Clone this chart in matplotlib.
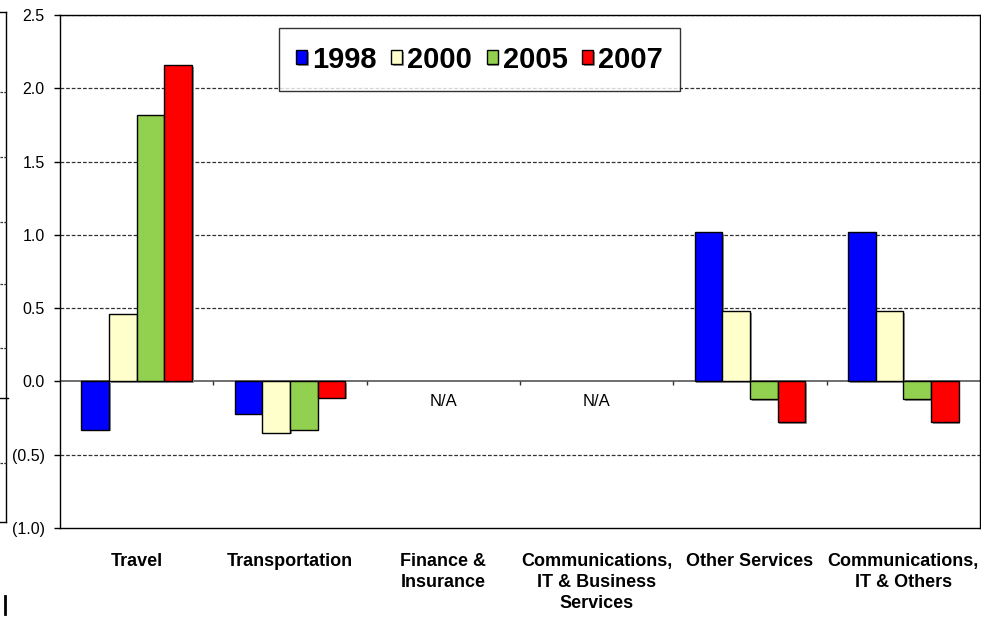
import matplotlib
matplotlib.use("Agg")
import matplotlib.pyplot as plt
import matplotlib.patheffects as pe
from matplotlib.lines import Line2D
from matplotlib.ticker import FuncFormatter
import numpy as np

plt.rcParams["font.family"] = ["Liberation Sans", "DejaVu Sans"]

# ── data ─────────────────────────────────────────
categories = ["Travel", "Transportation", "Finance &\nInsurance",
              "Communications,\nIT & Business\nServices", "Other Services",
              "Communications,\nIT & Others"]
years = ["1998", "2000", "2005", "2007"]
v1998 = [-0.33, -0.22, np.nan, np.nan, 1.02, 1.02]
v2000 = [0.46, -0.35, np.nan, np.nan, 0.48, 0.48]
v2005 = [1.82, -0.33, np.nan, np.nan, -0.12, -0.12]
v2007 = [2.16, -0.11, np.nan, np.nan, -0.28, -0.28]
na_labels = ["", "", "N/A", "N/A", "", ""]
y_ticks = [-1.0, -0.5, 0.0, 0.5, 1.0, 1.5, 2.0, 2.5]

colors = ["#0000FF", "#FFFFCC", "#92D050", "#FF0000"]
series = [v1998, v2000, v2005, v2007]

W, H = 981, 622
fig = plt.figure(figsize=(W / 100, H / 100), dpi=100)
ax = fig.add_axes([60 / W, 1 - 528 / H, 920 / W, 513 / H])

x = np.arange(len(categories))
bw = 0.18
shadow = [pe.SimplePatchShadow(offset=(1.2, -1.2), shadow_rgbFace="#999999", alpha=1.0),
          pe.Normal()]
for i, (vals, col, yr) in enumerate(zip(series, colors, years)):
    ax.bar(x + (i - 1.5) * bw, vals, bw, color=col, edgecolor="black",
           linewidth=1.0, label=yr, zorder=3, path_effects=shadow)

for xi, lab in zip(x, na_labels):
    if lab:
        ax.text(xi, -0.14, lab, ha="center", va="center", fontsize=12)

ax.set_xlim(-0.5, len(categories) - 0.5)
ax.set_ylim(-1.0, 2.5)
ax.set_yticks(y_ticks)
ax.yaxis.set_major_formatter(FuncFormatter(
    lambda v, p: f"({abs(v):.1f})" if v < 0 else f"{v:.1f}"))
ax.tick_params(axis="y", length=4, width=1, direction="out", pad=7, labelsize=11.5)

# gridlines (dashed) and zero line
for yv in y_ticks:
    if yv not in (0.0, -1.0):
        ax.axhline(yv, color="#333333", linestyle=(0, (3, 1.5)), linewidth=0.9, zorder=1)
ax.axhline(0, color="#555555", linewidth=1.2, zorder=2)
ax.vlines(np.arange(0.5, len(categories) - 0.5), -0.025, 0, color="#333333",
          linewidth=1, zorder=2)

ax.set_xticks(x)
ax.set_xticklabels(categories, fontweight="bold", fontsize=13, linespacing=1.3)
ax.tick_params(axis="x", length=0, pad=18)

for s in ax.spines.values():
    s.set_color("black")
    s.set_linewidth(1.0)

leg = ax.legend(loc="center", bbox_to_anchor=(479.5 / W, 1 - 59.5 / H),
                bbox_transform=fig.transFigure, ncol=4, frameon=True,
                fancybox=False, handlelength=0.38, handleheight=0.38,
                handletextpad=0.17, columnspacing=0.5, borderpad=0.6,
                prop={"family": ["Liberation Sans Narrow", "Liberation Sans"],
                      "weight": "bold", "size": 21})
leg.get_frame().set_edgecolor("black")
leg.get_frame().set_linewidth(1.0)
leg.set_zorder(5)

# remnants of a neighbouring chart on the left edge
def fline(xs, ys, **kw):
    fig.add_artist(Line2D([v / W for v in xs], [1 - v / H for v in ys],
                          transform=fig.transFigure, **kw))

fline([6, 6], [12, 522], color="black", linewidth=1)
fline([0, 6], [12, 12], color="black", linewidth=1)
fline([0, 6], [522, 522], color="black", linewidth=1)
fline([0, 8], [398, 398], color="black", linewidth=1)
for yy in [92, 157, 222, 284, 348, 463]:
    fline([0, 6], [yy, yy], color="#333333", linewidth=0.9, linestyle=(0, (2, 1)))
fline([5, 5], [596, 614], color="black", linewidth=2)

fig.savefig("out.png", dpi=100)
